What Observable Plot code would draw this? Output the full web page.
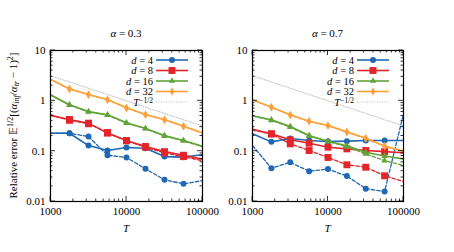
<!DOCTYPE html>
<html><head><meta charset="utf-8">
<script src="https://cdn.jsdelivr.net/npm/d3@7"></script>
<script src="https://cdn.jsdelivr.net/npm/@observablehq/plot@0.6"></script>
<style>
body{margin:0;background:#fff;}
#chart{position:relative;width:454px;height:252px;background:#fff;}
#chart > svg{position:absolute;top:0;}
</style></head><body><div id="chart"></div>
<script>
// ---- data ----
const T = [1000, 1778, 3162, 5623, 10000, 17783, 31623, 56234, 100000];
const dims = [4, 8, 16, 32];
const alphas = ["0.3", "0.7"];
const xMajor = [1000, 10000, 100000];
const xMinor = [2000,3000,4000,5000,6000,7000,8000,9000,20000,30000,40000,50000,60000,70000,80000,90000];
const yMajor = [0.01, 0.1, 1, 10];
const yMinor = [0.02,0.03,0.04,0.05,0.06,0.07,0.08,0.09,0.2,0.3,0.4,0.5,0.6,0.7,0.8,0.9,2,3,4,5,6,7,8,9];
const refT = [1000, 100000];
const refV = [3.16, 0.316];

// alpha = 0.3
const a03_d4_solid  = [0.227, 0.227, 0.129, 0.103, 0.118, 0.114, 0.078, 0.076, 0.085];
const a03_d4_dashed = [0.227, 0.227, 0.195, 0.083, 0.075, 0.0445, 0.027, 0.0224, 0.026];
const a03_d8_solid  = [0.51, 0.426, 0.36, 0.228, 0.163, 0.124, 0.098, 0.083, 0.069];
const a03_d8_dashed = [0.53, 0.41, 0.35, 0.235, 0.16, 0.12, 0.092, 0.078, 0.064];
const a03_d16_solid  = [1.32, 0.834, 0.614, 0.527, 0.366, 0.282, 0.205, 0.163, 0.126];
const a03_d16_dashed = [1.30, 0.82, 0.60, 0.52, 0.36, 0.28, 0.20, 0.16, 0.122];
const a03_d32_solid  = [2.69, 1.73, 1.34, 1.06, 0.726, 0.535, 0.425, 0.313, 0.231];
const a03_d32_dashed = [2.65, 1.70, 1.32, 1.05, 0.72, 0.53, 0.42, 0.31, 0.228];
// alpha = 0.7
const a07_d4_solid  = [0.221, 0.153, 0.178, 0.163, 0.156, 0.158, 0.163, 0.163, 0.163];
const a07_d4_dashed = [0.129, 0.046, 0.060, 0.040, 0.044, 0.032, 0.018, 0.0158, 0.55];
const a07_d8_solid  = [0.273, 0.221, 0.168, 0.144, 0.12, 0.111, 0.103, 0.098, 0.093];
const a07_d8_dashed = [0.262, 0.22, 0.14, 0.103, 0.075, 0.0536, 0.048, 0.0324, 0.025];
const a07_d16_solid  = [0.504, 0.42, 0.309, 0.205, 0.158, 0.128, 0.095, 0.080, 0.070];
const a07_d16_dashed = [0.50, 0.41, 0.30, 0.20, 0.155, 0.122, 0.088, 0.065, 0.052];
const a07_d32_solid  = [1.05, 0.75, 0.527, 0.394, 0.324, 0.242, 0.181, 0.126, 0.10];
const a07_d32_dashed = [1.04, 0.74, 0.52, 0.39, 0.32, 0.238, 0.178, 0.124, 0.098];

const panels = [
  {alpha: "0.3", solid: [a03_d4_solid, a03_d8_solid, a03_d16_solid, a03_d32_solid],
                 dashed: [a03_d4_dashed, a03_d8_dashed, a03_d16_dashed, a03_d32_dashed]},
  {alpha: "0.7", solid: [a07_d4_solid, a07_d8_solid, a07_d16_solid, a07_d32_solid],
                 dashed: [a07_d4_dashed, a07_d8_dashed, a07_d16_dashed, a07_d32_dashed]}
];

// ---- styles ----
const colors = ["#1f68b4", "#e2252b", "#62a338", "#ffa13a"];
const symbols = ["circle", "square", "triangle", "diamond"];
const radii = [3, 3.9, 2.4, 2.5];
const d3symbols = [d3.symbolCircle, d3.symbolSquare, d3.symbolTriangle, d3.symbolDiamond];
const SERIF = "'Liberation Serif', 'Times New Roman', serif";
const FS = 11;
const LFS = 10.5;

const rows = vals => T.map((t, i) => ({T: t, v: vals[i]}));
function rows2(xs, vs) { return xs.map((t, i) => ({T: t, v: vs[i]})); }

function decor(alpha, showYLabel) {
  return (index, scales, values, dim) => {
    const g = d3.create("svg:g").attr("font-family", SERIF).attr("font-size", FS).attr("fill", "#000");
    const L = dim.marginLeft, R = dim.width - dim.marginRight;
    const top = dim.marginTop, bottom = dim.height - dim.marginBottom;
    const cx = (L + R) / 2;
    // inward ticks on all four sides
    const tk = g.append("g").attr("stroke", "#000").attr("stroke-width", 0.8);
    const addX = (vals, len) => vals.forEach(v => {
      const x = scales.x(v);
      tk.append("line").attr("x1", x).attr("x2", x).attr("y1", bottom).attr("y2", bottom - len);
      tk.append("line").attr("x1", x).attr("x2", x).attr("y1", top).attr("y2", top + len);
    });
    const addY = (vals, len) => vals.forEach(v => {
      const y = scales.y(v);
      tk.append("line").attr("y1", y).attr("y2", y).attr("x1", L).attr("x2", L + len);
      tk.append("line").attr("y1", y).attr("y2", y).attr("x1", R).attr("x2", R - len);
    });
    addX(xMajor, 5); addX(xMinor, 2.5); addY(yMajor, 5); addY(yMinor, 2.5);
    // title and x label
    const t = g.append("text").attr("x", cx).attr("y", top - 13).attr("text-anchor", "middle");
    t.append("tspan").attr("font-style", "italic").text("α");
    t.append("tspan").text(" = " + alpha);
    g.append("text").attr("x", cx).attr("y", bottom + 31).attr("text-anchor", "middle")
      .attr("font-style", "italic").text("T");
    if (showYLabel) {
      const yl = g.append("text").attr("transform", `translate(17,${(top + bottom) / 2}) rotate(-90)`)
        .attr("text-anchor", "middle");
      yl.append("tspan").text("Relative error 𝔼");
      yl.append("tspan").attr("font-size", 8).attr("dy", -4).text("1/2");
      yl.append("tspan").attr("dy", 4).text("[(");
      yl.append("tspan").attr("font-style", "italic").text("α");
      yl.append("tspan").attr("font-style", "italic").attr("font-size", 8).attr("dy", 2).text("inf");
      yl.append("tspan").attr("dy", -2).text("/");
      yl.append("tspan").attr("font-style", "italic").text("α");
      yl.append("tspan").attr("font-style", "italic").attr("font-size", 8).attr("dy", 2).text("tr");
      yl.append("tspan").attr("dy", -2).text(" − 1)");
      yl.append("tspan").attr("font-size", 8).attr("dy", -4).text("2");
      yl.append("tspan").attr("dy", 4).text("]");
    }
    // legend
    const x0 = R - 46, x1 = R - 14, xl = R - 49;
    const step = 10.5;
    const lg = g.append("g").attr("font-size", LFS);
    dims.forEach((d, i) => {
      const y = top + 10 + i * step;
      const lt = lg.append("text").attr("x", xl).attr("y", y + 3.5).attr("text-anchor", "end");
      lt.append("tspan").attr("font-style", "italic").text("d");
      lt.append("tspan").text(" = " + d);
      lg.append("line").attr("x1", x0).attr("x2", x1).attr("y1", y).attr("y2", y)
        .attr("stroke", colors[i]).attr("stroke-width", 1.6);
      lg.append("path").attr("transform", `translate(${(x0 + x1) / 2},${y})`)
        .attr("d", d3.symbol(d3symbols[i], Math.PI * radii[i] * radii[i])()).attr("fill", colors[i]);
    });
    const y = top + 10 + 4 * step;
    const lt = lg.append("text").attr("x", xl).attr("y", y + 3.5).attr("text-anchor", "end");
    lt.append("tspan").attr("font-style", "italic").text("T");
    lt.append("tspan").attr("font-size", 7.5).attr("dy", -3).text("−1/2");
    lg.append("line").attr("x1", x0).attr("x2", x1).attr("y1", y).attr("y2", y)
      .attr("stroke", "#b5b5b5").attr("stroke-width", 0.9).attr("stroke-dasharray", "1,1.5");
    return g.node();
  };
}

function panel(p, ml, mr, showYLabel) {
  const marks = [];
  marks.push(Plot.line(rows2(refT, refV), {x: "T", y: "v", stroke: "#b5b5b5", strokeWidth: 0.9, strokeDasharray: "1,1.5", clip: true}));
  dims.forEach((d, i) => {
    const ds = rows(p.dashed[i]), so = rows(p.solid[i]);
    marks.push(Plot.line(ds, {x: "T", y: "v", stroke: colors[i], strokeWidth: 1.3, strokeDasharray: "3.5,2", clip: true}));
    marks.push(Plot.dot(ds.slice(1, 8), {x: "T", y: "v", symbol: symbols[i], fill: colors[i], r: radii[i], stroke: "none"}));
    marks.push(Plot.line(so, {x: "T", y: "v", stroke: colors[i], strokeWidth: 1.6, clip: true}));
    marks.push(Plot.dot(so.slice(1, 8), {x: "T", y: "v", symbol: symbols[i], fill: colors[i], r: radii[i], stroke: "none"}));
  });
  marks.push(Plot.frame({stroke: "#000", strokeWidth: 1.2}));
  marks.push(Plot.axisX({anchor: "bottom", ticks: xMajor, tickSize: 0, tickPadding: 6, tickFormat: d => String(d), label: null}));
  marks.push(Plot.axisY({anchor: "left", ticks: yMajor, tickSize: 0, tickPadding: 5, tickFormat: d => String(d), label: null}));
  marks.push(decor(p.alpha, showYLabel));
  return Plot.plot({
    width: 227, height: 252,
    marginLeft: ml, marginRight: mr, marginTop: 50, marginBottom: 51,
    x: {type: "log", domain: [1000, 100000]},
    y: {type: "log", domain: [0.01, 10]},
    style: {fontFamily: SERIF, fontSize: FS + "px", background: "transparent", color: "#000"},
    marks
  });
}

const chart = document.getElementById("chart");
const s1 = panel(panels[0], 50, 25, true);
s1.style.left = "0px";
const s2 = panel(panels[1], 25, 51, false);
s2.style.left = "227px";
chart.append(s1, s2);
</script></body></html>
